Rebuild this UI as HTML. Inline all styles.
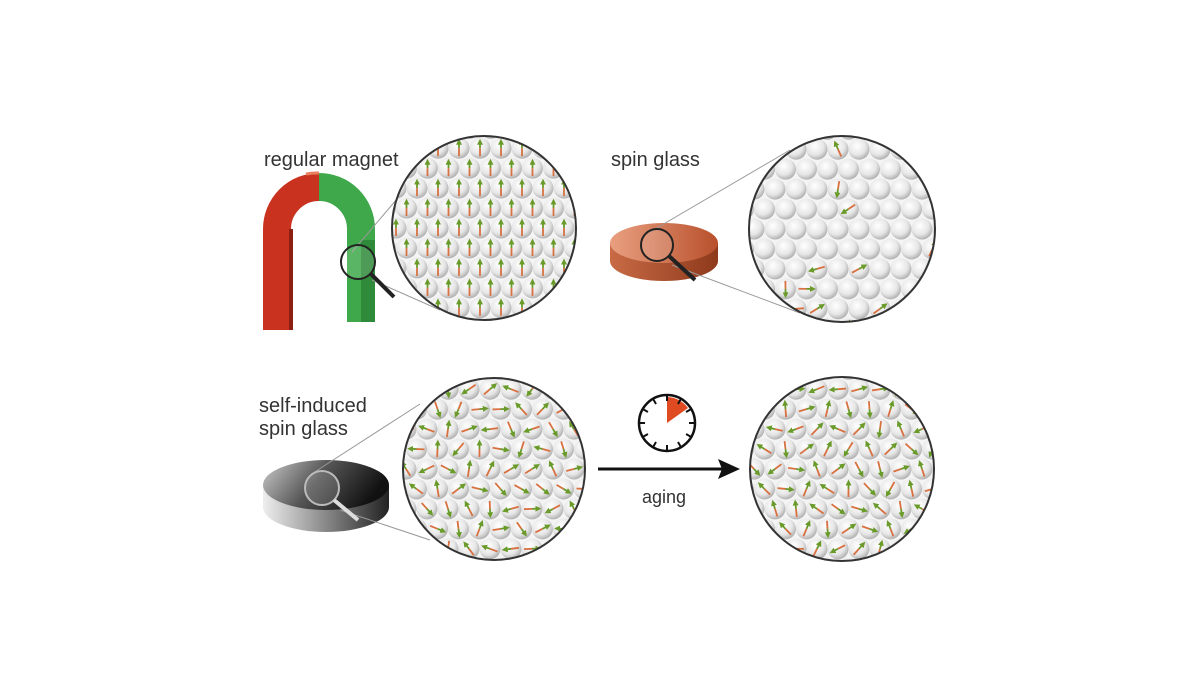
<!DOCTYPE html>
<html><head><meta charset="utf-8">
<style>
html,body{margin:0;padding:0;background:#fff;}
svg{display:block;}
text{font-family:"Liberation Sans",sans-serif;fill:#333;}
</style></head>
<body>
<svg id="s" width="1200" height="674" viewBox="0 0 1200 674" xmlns="http://www.w3.org/2000/svg">
<defs>
<radialGradient id="sph" cx="0.4" cy="0.35" r="0.7">
<stop offset="0" stop-color="#ffffff"/><stop offset="0.6" stop-color="#e6e6e6"/><stop offset="1" stop-color="#a8a8a8"/>
</radialGradient>
<linearGradient id="org" x1="0" x2="1"><stop offset="0" stop-color="#e9a080"/><stop offset="1" stop-color="#b8502c"/></linearGradient>
<linearGradient id="orgs" x1="0" x2="1"><stop offset="0" stop-color="#c86a45"/><stop offset="1" stop-color="#8e3a1c"/></linearGradient>
<linearGradient id="gry" x1="0" y1="0" x2="1" y2="0.3"><stop offset="0" stop-color="#ccc"/><stop offset="0.5" stop-color="#555"/><stop offset="1" stop-color="#111"/></linearGradient>
<linearGradient id="grys" x1="0" x2="1"><stop offset="0" stop-color="#eee"/><stop offset="0.5" stop-color="#888"/><stop offset="1" stop-color="#222"/></linearGradient>
<clipPath id="c1"><circle cx="484" cy="228" r="92"/></clipPath>
<clipPath id="c2"><circle cx="842" cy="229" r="93"/></clipPath>
<clipPath id="c3"><circle cx="494" cy="469" r="91"/></clipPath>
<clipPath id="c4"><circle cx="842" cy="469" r="92"/></clipPath>
<marker id="ag" markerWidth="6" markerHeight="6" refX="3" refY="3" orient="auto" markerUnits="userSpaceOnUse"><path d="M0,0 L6,3 L0,6z" fill="#6a9a2a"/></marker>
</defs>

<!-- labels -->
<text x="264" y="166" font-size="20">regular magnet</text>
<text x="611" y="166" font-size="20">spin glass</text>
<text x="259" y="412" font-size="20">self-induced</text>
<text x="259" y="435" font-size="20">spin glass</text>
<text x="642" y="503" font-size="18">aging</text>

<!-- magnet -->
<path d="M277,330 V229 A42,42 0 0 1 319,187" fill="none" stroke="#c8321f" stroke-width="28"/>
<path d="M291,330 V229" stroke="#8a1f12" stroke-width="4"/>
<path d="M319,187 A42,42 0 0 1 361,229 V322" fill="none" stroke="#3ea84a" stroke-width="28"/>
<path d="M368,240 V322" stroke="#2f8a3a" stroke-width="14"/>
<path d="M306,174 A56,56 0 0 1 319,173" stroke="#e88060" stroke-width="3" fill="none"/>

<!-- orange disc -->
<path d="M610,243 V261 A54,20 0 0 0 718,261 V243z" fill="url(#orgs)"/>
<ellipse cx="664" cy="243" rx="54" ry="20" fill="url(#org)"/>
<!-- gray disc -->
<path d="M263,485 V507 A63,25 0 0 0 389,507 V485z" fill="url(#grys)"/>
<ellipse cx="326" cy="485" rx="63" ry="25" fill="url(#gry)"/>

<!-- connectors -->
<g stroke="#999" stroke-width="1" fill="none">
<line x1="352" y1="252" x2="430" y2="160"/><line x1="372" y1="280" x2="440" y2="310"/>
<line x1="650" y1="232" x2="790" y2="150"/><line x1="672" y1="265" x2="800" y2="313"/>
<line x1="313" y1="473" x2="420" y2="404"/><line x1="340" y1="510" x2="430" y2="540"/>
</g>

<!-- magnifiers -->
<g fill="rgba(255,255,255,0.15)" stroke="#222" stroke-width="2">
<circle cx="358" cy="262" r="17"/><line x1="371" y1="274" x2="394" y2="297" stroke-width="4"/>
<circle cx="657" cy="245" r="16"/><line x1="669" y1="256" x2="695" y2="280" stroke-width="4"/>
<circle cx="322" cy="488" r="17" stroke="#bbb"/><line x1="334" y1="500" x2="358" y2="520" stroke="#ddd" stroke-width="4"/>
</g>

<g id="balls"></g>

<!-- clock -->
<circle cx="667" cy="423" r="28" fill="#fff" stroke="#111" stroke-width="2.5"/>
<path d="M667,423 L667,397 A26,26 0 0 1 688,408z" fill="#e04a20"/>
<g id="ticks" stroke="#111" stroke-width="2"></g>

<!-- arrow -->
<line x1="598" y1="469" x2="722" y2="469" stroke="#111" stroke-width="3"/>
<path d="M740,469 L718,459 L722,469 L718,479z" fill="#111"/>
</svg>
<script>
var NS="http://www.w3.org/2000/svg",g=document.getElementById('balls');
function el(t,a,p){var e=document.createElementNS(NS,t);for(var k in a)e.setAttribute(k,a[k]);(p||g).appendChild(e);return e;}
var seed=7;function rnd(){seed=(seed*16807)%2147483647;return seed/2147483647;}
var C=[[484,228,92,'c1','up'],[842,229,93,'c2','sparse'],[494,469,91,'c3','rand'],[842,469,92,'c4','rand']];
C.forEach(function(c){
 var grp=el('g',{'clip-path':'url(#'+c[3]+')'});
 el('rect',{x:c[0]-c[2],y:c[1]-c[2],width:2*c[2],height:2*c[2],fill:'#f4f4f4'},grp);
 var s=21;
 for(var j=-5;j<=5;j++)for(var i=-5;i<=5;i++){
  var x=c[0]+i*s+(j%2?s/2:0)-4,y=c[1]+j*s*0.95;
  el('circle',{cx:x,cy:y,r:10.5,fill:'url(#sph)'},grp);
  var a=null;
  if(c[4]=='up')a=-Math.PI/2;
  else if(c[4]=='rand')a=rnd()*Math.PI*2;
  else if(rnd()<0.18)a=rnd()*Math.PI*2;
  if(a!==null){var dx=Math.cos(a)*8,dy=Math.sin(a)*8;
   el('line',{x1:x-dx,y1:y-dy,x2:x,y2:y,stroke:'#d87040','stroke-width':1.8},grp);
   el('line',{x1:x,y1:y,x2:x+dx*0.8,y2:y+dy*0.8,stroke:'#6a9a2a','stroke-width':1.8,'marker-end':'url(#ag)'},grp);}
 }
 el('circle',{cx:c[0],cy:c[1],r:c[2],fill:'none',stroke:'#333','stroke-width':2});
});
var t=document.getElementById('ticks');
for(var k=0;k<12;k++){var a=k*Math.PI/6;el('line',{x1:667+Math.sin(a)*22,y1:423-Math.cos(a)*22,x2:667+Math.sin(a)*28,y2:423-Math.cos(a)*28},t);}
</script>
</body></html>
